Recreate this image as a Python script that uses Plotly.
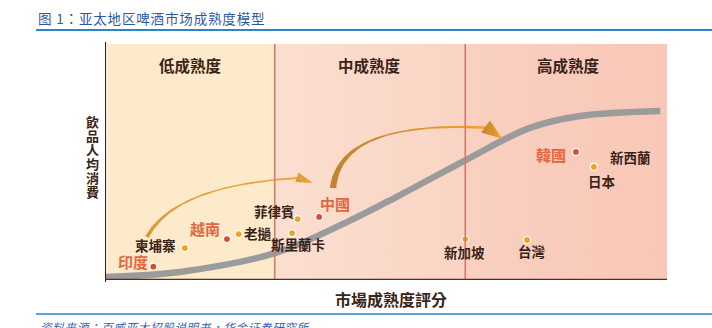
import numpy as np
import plotly.graph_objects as go

# ---- data -------------------------------------------------------------
countries = ["印度", "柬埔寨", "越南", "老撾", "菲律賓", "斯里蘭卡", "中國",
             "新加坡", "台灣", "韓國", "日本", "新西蘭"]
maturity = [0.86, 1.42, 2.17, 2.38, 3.43, 3.33, 3.81, 6.41, 7.51, 8.38, 8.70, 8.70]
consumption = [0.56, 1.34, 1.72, 1.93, 2.56, 1.97, 2.65, 1.72, 1.68, 5.38, 4.75, 4.75]
key_market = [True, False, True, False, False, False, True, False, False, True, False, False]

# S-shaped maturity curve
curve_score = [0.0, 1.33, 3.02, 4.31, 5.25, 6.42, 7.56, 8.45, 9.88]
curve_consumption = [0.13, 0.34, 1.13, 2.44, 3.57, 5.04, 6.39, 6.89, 7.10]

stage_names = ["低成熟度", "中成熟度", "高成熟度"]
stage_edges = [0.04, 3.02, 6.41, 10.0]

# ---- style ------------------------------------------------------------
FONT = "Noto Sans CJK TC"
DARK = "#3a2418"
RED_TXT = "#e2673e"
RED_DOT = "#d6502c"
ORANGE_DOT = "#f2a11f"
stage_fills = [("#fdeacb", "#fdeacb"), ("#fbdfd0", "#f9d4c4"), ("#f9d0c1", "#f8c7b7")]

# label offsets in pixels (dx right, dy up)
label_offsets = {
    "印度": (-20, 5), "柬埔寨": (-29, 3), "越南": (-22, 11), "老撾": (19, 1),
    "菲律賓": (-23, 8), "斯里蘭卡": (6, -11), "中國": (16, 13), "新加坡": (-1, -13),
    "台灣": (5, -11), "韓國": (-25, -3), "日本": (8, -14), "新西蘭": (37, 10),
}

W, H = 712, 328
ML, MR, MT, MB = 105, 45, 42, 48
X0, X1, Y0, Y1 = 0, 10, 0, 10
PW, PH = W - ML - MR, H - MT - MB
PX_X = PW / (X1 - X0)
PX_Y = PH / (Y1 - Y0)


def paper_x(px):
    return (px - ML) / PW


def paper_y(py):
    return (H - MB - py) / PH


fig = go.Figure()

# maturity stage panels
for i in range(3):
    a, b = stage_edges[i], stage_edges[i + 1]
    c0, c1 = stage_fills[i]
    panel = dict(x=[a, b, b, a, a], y=[0, 0, 9.92, 9.92, 0], mode="lines", fill="toself",
                 line=dict(width=0), fillcolor=c0, hoverinfo="skip", showlegend=False)
    if c0 != c1:
        panel["fillgradient"] = dict(type="horizontal", colorscale=[[0, c0], [1, c1]])
    fig.add_trace(go.Scatter(**panel))

# curve
fig.add_trace(go.Scatter(
    x=curve_score, y=curve_consumption, mode="lines",
    line=dict(color="#9b9b9b", width=6.5, shape="spline", smoothing=1.0),
    hoverinfo="skip", showlegend=False))


def tapered_arrow(p0, p1, p2, tip, widths, head_half, colors):
    """Quadratic-Bezier brush stroke with a varying width and a triangular head."""
    P = [np.array([p[0] * PX_X, p[1] * PX_Y]) for p in (p0, p1, p2)]
    T = np.array([tip[0] * PX_X, tip[1] * PX_Y])
    t = np.linspace(0, 1, 60)[:, None]
    pts = (1 - t) ** 2 * P[0] + 2 * (1 - t) * t * P[1] + t ** 2 * P[2]
    d = 2 * (1 - t) * (P[1] - P[0]) + 2 * t * (P[2] - P[1])
    d = d / np.linalg.norm(d, axis=1, keepdims=True)
    n = np.stack([-d[:, 1], d[:, 0]], axis=1)
    w = np.interp(t[:, 0], np.linspace(0, 1, len(widths)), widths)[:, None] / 2
    left, right = pts + n * w, pts - n * w
    poly = np.vstack([left, right[::-1], left[:1]])
    hd = (T - P[2]) / np.linalg.norm(T - P[2])
    hn = np.array([-hd[1], hd[0]])
    base = P[2] - hd * 2
    head = np.vstack([base + hn * head_half, T, base - hn * head_half, base + hn * head_half])
    for shape in (poly, head):
        fig.add_trace(go.Scatter(
            x=shape[:, 0] / PX_X, y=shape[:, 1] / PX_Y, mode="lines", fill="toself",
            line=dict(width=0), fillcolor=colors[1],
            fillgradient=dict(type="horizontal", colorscale=[[0, colors[0]], [1, colors[1]]]),
            hoverinfo="skip", showlegend=False))


tapered_arrow((0.747, 1.807), (1.246, 3.992), (3.45, 4.29), (3.70, 4.08),
              [4.0, 2.6, 1.6, 1.4, 1.6, 2.0], 5.0, ("#d99a3c", "#f3a535"))
tapered_arrow((4.057, 3.866), (4.181, 6.723), (6.80, 6.40), (7.07, 5.93),
              [6.5, 4.5, 2.5, 1.6, 1.8, 2.6], 7.5, ("#c2822e", "#f4a22a"))

# markets
fig.add_trace(go.Scatter(
    x=maturity, y=consumption, mode="markers",
    marker=dict(size=7, color=[RED_DOT if k else ORANGE_DOT for k in key_market],
                line=dict(color="white", width=1.2)),
    hoverinfo="skip", showlegend=False))

annotations = []
for name, xv, yv, key in zip(countries, maturity, consumption, key_market):
    dx, dy = label_offsets[name]
    annotations.append(dict(
        x=xv, y=yv, xref="x", yref="y", text=name, showarrow=False,
        xshift=dx, yshift=dy, xanchor="center", yanchor="middle",
        font=dict(family=FONT, size=15 if key else 13.5,
                  color=RED_TXT if key else DARK, weight="bold")))

for i, name in enumerate(stage_names):
    annotations.append(dict(
        x=(stage_edges[i] + stage_edges[i + 1]) / 2 + (0.05 if i == 2 else 0), y=9.03,
        xref="x", yref="y", text=name, showarrow=False, xanchor="center", yanchor="middle",
        font=dict(family=FONT, size=15.5, color=DARK, weight="bold")))

# vertical y title, one glyph per row
y_title = "飲品人均消費"
for i, ch in enumerate(y_title):
    annotations.append(dict(
        x=paper_x(92), y=paper_y(121 + i * 14), xanchor="center", yanchor="middle",
        xref="paper", yref="paper", text=ch, showarrow=False,
        font=dict(family=FONT, size=13, color=DARK, weight="bold")))

annotations.append(dict(
    x=paper_x(391), y=paper_y(299), xref="paper", yref="paper", xanchor="center", yanchor="middle",
    text="市場成熟度評分", showarrow=False,
    font=dict(family=FONT, size=16, color=DARK, weight="bold")))

# header and source note
hs = "\u200a"
annotations.append(dict(
    x=paper_x(36), y=paper_y(18), xref="paper", yref="paper", xanchor="left", yanchor="middle",
    text=hs.join("图 1：亚太地区啤酒市场成熟度模型"), showarrow=False,
    font=dict(family=FONT, size=13.5, color="#2c5aa6")))
annotations.append(dict(
    x=paper_x(38), y=paper_y(317), xref="paper", yref="paper", xanchor="left", yanchor="top",
    text="<i>" + hs.join("资料来源：百威亚太招股说明书，华金证券研究所") + "</i>", showarrow=False,
    font=dict(family=FONT, size=11.5, color="#2f62b0")))

shapes = [
    # stage dividers
    dict(type="line", xref="x", yref="y", x0=stage_edges[1], x1=stage_edges[1], y0=0, y1=9.92,
         line=dict(color="#d77a6a", width=1.6)),
    dict(type="line", xref="x", yref="y", x0=stage_edges[2], x1=stage_edges[2], y0=0, y1=9.92,
         line=dict(color="#d77a6a", width=1.6)),
    # axes
    dict(type="line", xref="x", yref="paper", x0=0, x1=0, y0=-0.008, y1=1.0,
         line=dict(color="#4a1d15", width=2.2)),
    dict(type="line", xref="x", yref="y", x0=0, x1=10.03, y0=0, y1=0,
         line=dict(color="#5a2a20", width=2.4)),
    # blue rules
    dict(type="line", xref="paper", yref="paper", x0=paper_x(36), x1=paper_x(W),
         y0=paper_y(30), y1=paper_y(30), line=dict(color="#2a86cc", width=1.8)),
    dict(type="line", xref="paper", yref="paper", x0=paper_x(36), x1=paper_x(W),
         y0=paper_y(314), y1=paper_y(314), line=dict(color="#2a86cc", width=1.6)),
]

fig.update_layout(
    width=W, height=H, margin=dict(l=ML, r=MR, t=MT, b=MB),
    paper_bgcolor="white", plot_bgcolor="white",
    xaxis=dict(range=[X0, X1], visible=False, fixedrange=True),
    yaxis=dict(range=[Y0, Y1], visible=False, fixedrange=True),
    annotations=annotations, shapes=shapes, showlegend=False,
)

fig.write_html("out.html")
